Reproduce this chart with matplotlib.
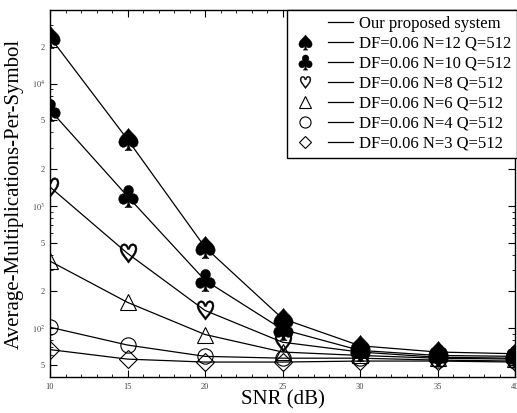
import numpy as np
import matplotlib
matplotlib.use('Agg')
import matplotlib.pyplot as plt
from matplotlib.lines import Line2D
from matplotlib.legend_handler import HandlerTuple

# datos
snr = [10, 15, 20, 25, 30, 35, 40]
n12 = [24000, 3500, 460, 120, 72, 64, 62]
n10 = [6100, 1200, 247, 98, 66, 60, 59]
n8 = [1430, 410, 140, 77, 64, 58, 57]
n6 = [354, 163, 89, 64, 60, 57, 56]
n4 = [102, 73, 59, 57, 57, 55, 54]
n3 = [67, 56, 53, 53, 54, 54, 53]
labels = ['DF=0.06 N=12 Q=512', 'DF=0.06 N=10 Q=512', 'DF=0.06 N=8 Q=512',
          'DF=0.06 N=6 Q=512', 'DF=0.06 N=4 Q=512', 'DF=0.06 N=3 Q=512']
yticks = [50, 100, 200, 500, 1000, 2000, 5000, 10000, 20000]
ytick_labels = ['5', r'$10^2$', '2', '5', r'$10^3$', '2', '5', r'$10^4$', '2']

plt.rcParams['font.family'] = ['Liberation Serif', 'DejaVu Serif']
plt.rcParams['mathtext.fontset'] = 'stix'

fig = plt.figure(figsize=(5.17, 4.13), dpi=100)
ax = fig.add_axes([50/517, 36/413, 465/517, 367/413])

series = [n12, n10, n8, n6, n4, n3]
markers = [r'$\spadesuit$', r'$\clubsuit$', r'$\heartsuit$', '^', 'o', 'D']
sizes = [16, 16, 14, 12, 11, 9]
for ys, m, s in zip(series, markers, sizes):
    if m.startswith('$'):
        ax.plot(snr, ys, color='k', lw=0.9, marker=m, ms=s, mfc='k', mec='k', mew=0.3)
    else:
        ax.plot(snr, ys, color='k', lw=0.9, marker=m, ms=s, mfc='none', mec='k', mew=0.8)

ax.set_yscale('log')
ax.set_xlim(10, 40)
ax.set_ylim(40, 40000)
ax.set_xticks([10, 15, 20, 25, 30, 35, 40])
ax.set_xticks(np.arange(10, 41, 1), minor=True)
ax.set_yticks(yticks)
ax.set_yticklabels(ytick_labels)
ax.yaxis.set_minor_locator(matplotlib.ticker.LogLocator(base=10, subs=np.arange(2, 10)))
ax.yaxis.set_minor_formatter(matplotlib.ticker.NullFormatter())
ax.tick_params(which='both', direction='in', top=True, right=True, labelsize=6, labelcolor='#444444')
ax.tick_params(which='major', length=5, width=0.8)
ax.tick_params(which='minor', length=2.5, width=0.6)
ax.tick_params(axis='x', pad=4)
for sp in ax.spines.values():
    sp.set_linewidth(1.0)

ax.set_xlabel('SNR (dB)', fontsize=15, labelpad=0)
ax.set_ylabel('Average-Multiplications-Per-Symbol', fontsize=15, labelpad=6)

#Leyenda: marcador a la izquierda y linea a la derecha
blank = Line2D([], [], ls='none', marker='none')
line = Line2D([], [], color='k', lw=0.9)
handles = [(blank, line)]
for m, s in zip(markers, sizes):
    if m.startswith('$'):
        mk = Line2D([], [], ls='none', marker=m, ms=s - 5, mfc='k', mec='k', mew=0.2)
    else:
        mk = Line2D([], [], ls='none', marker=m, ms=s - 3, mfc='none', mec='k', mew=0.8)
    handles.append((mk, Line2D([], [], color='k', lw=0.9)))
leg = ax.legend(handles, ['Our proposed system'] + labels,
                handler_map={tuple: HandlerTuple(ndivide=None, pad=0.6)},
                loc='upper right', bbox_to_anchor=(1.005, 1.0), borderaxespad=0,
                fontsize=12, handlelength=3.6, handletextpad=0.4, labelspacing=0.24,
                fancybox=False, framealpha=1, edgecolor='k', borderpad=0.35)
leg.get_frame().set_linewidth(1.0)

fig.savefig('out.png', dpi=100)
